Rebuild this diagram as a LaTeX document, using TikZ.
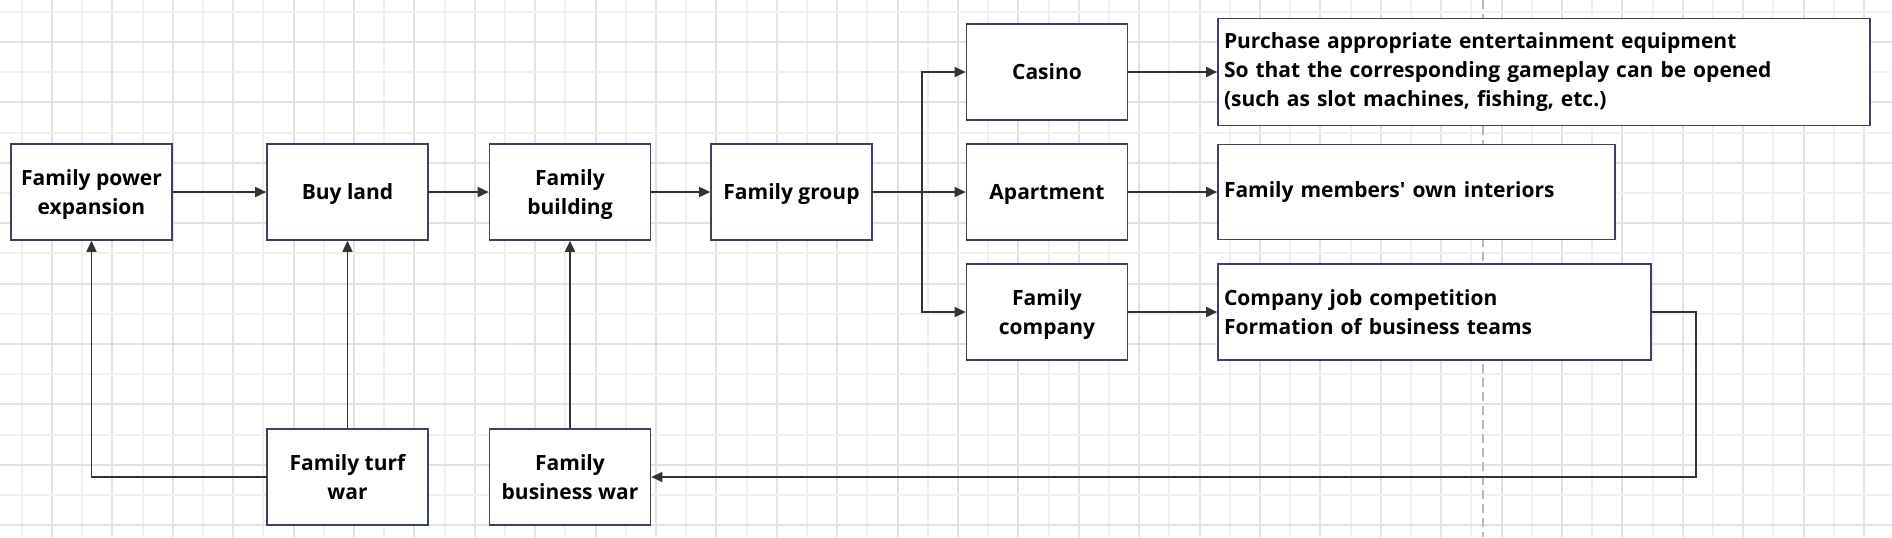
\documentclass[tikz,border=0pt]{standalone}
\usepackage{fontspec}
\setmainfont{Open Sans}
\usetikzlibrary{arrows.meta}
\definecolor{boxline}{HTML}{3A4263}
\definecolor{linkgray}{HTML}{333333}
\definecolor{gridlight}{HTML}{F0F0F0}
\definecolor{griddark}{HTML}{E2E2E2}
\tikzset{
    stepbox/.style={draw=boxline, fill=white, line width=0.8pt, minimum width=80.5pt, minimum height=48pt, align=center, inner sep=2pt, text depth=0pt, font=\bfseries\fontsize{10.5}{14.6}\selectfont},
    notebox/.style={draw=boxline, fill=white, line width=0.8pt, align=left, inner sep=3pt, font=\bfseries\fontsize{10.5}{14.6}\selectfont},
    link/.style={draw=linkgray, line width=0.8pt, -{Triangle[length=5.5pt,width=5pt]}},
}
\begin{document}
\begin{tikzpicture}[x=0.5pt,y=-0.5pt]
            \useasboundingbox (0,0) rectangle (1892,537);
            \fill[white] (0,0) rectangle (1892,537);
            \foreach \i in {0,2,...,60}
            {
                    \draw[gridlight, line width=1pt] (21.7+30.2*\i,0) -- (21.7+30.2*\i,537);
            }
            \foreach \i in {1,3,...,61}
            {
                    \draw[griddark, line width=1pt] (21.7+30.2*\i,0) -- (21.7+30.2*\i,537);
            }
            \foreach \j in {0,2,...,16}
            {
                    \draw[gridlight, line width=1pt] (0,11.7+30.2*\j) -- (1892,11.7+30.2*\j);
            }
            \foreach \j in {1,3,...,17}
            {
                    \draw[griddark, line width=1pt] (0,11.7+30.2*\j) -- (1892,11.7+30.2*\j);
            }
            \draw[gray!55, line width=0.8pt, dash pattern=on 4.5pt off 2.5pt] (1483,0) -- (1483,537);

            \node[stepbox] (power) at (91.5,192) {Family power\\expansion};
            \node[stepbox] (buy) at (347.5,192) {Buy land};
            \node[stepbox] (building) at (570,192) {Family\\building};
            \node[stepbox] (group) at (791.5,192) {Family group};
            \node[stepbox] (casino) at (1047,72) {Casino};
            \node[stepbox] (apartment) at (1047,192) {Apartment};
            \node[stepbox] (company) at (1047,312) {Family\\company};
            \node[stepbox] (turf) at (347.5,477) {Family turf\\war};
            \node[stepbox] (bizwar) at (570,477) {Family\\business war};

            \node[notebox, text width=320pt, minimum height=53.5pt] (casinotext) at (1544,72) {Purchase appropriate entertainment equipment\\So that the corresponding gameplay can be opened\\(such as slot machines, fishing, etc.)};
            \node[notebox, text width=192.5pt, minimum height=47.5pt] (aptext) at (1416.5,192) {Family members\textquotesingle{} own interiors};
            \node[notebox, text width=210.5pt, minimum height=48pt] (comptext) at (1434.5,312) {Company job competition\\Formation of business teams};

            \coordinate (fork) at (922,192);
            \coordinate (loopturn) at (1696,312);

            \draw[link] (power) -- (buy);
            \draw[link] (buy) -- (building);
            \draw[link] (building) -- (group);
            \draw[link] (group) -- (apartment);
            \draw[link] (fork) |- (casino);
            \draw[link] (fork) |- (company);
            \draw[link] (casino) -- (casinotext.west |- casino);
            \draw[link] (apartment) -- (aptext);
            \draw[link] (company) -- (comptext);
            \draw[link] (comptext.east) -- (loopturn) |- (bizwar.east);
            \draw[link] (turf) -- (buy);
            \draw[link] (bizwar) -- (building);
            \draw[link] (turf.west) -| (power.south);
\end{tikzpicture}
\end{document}
